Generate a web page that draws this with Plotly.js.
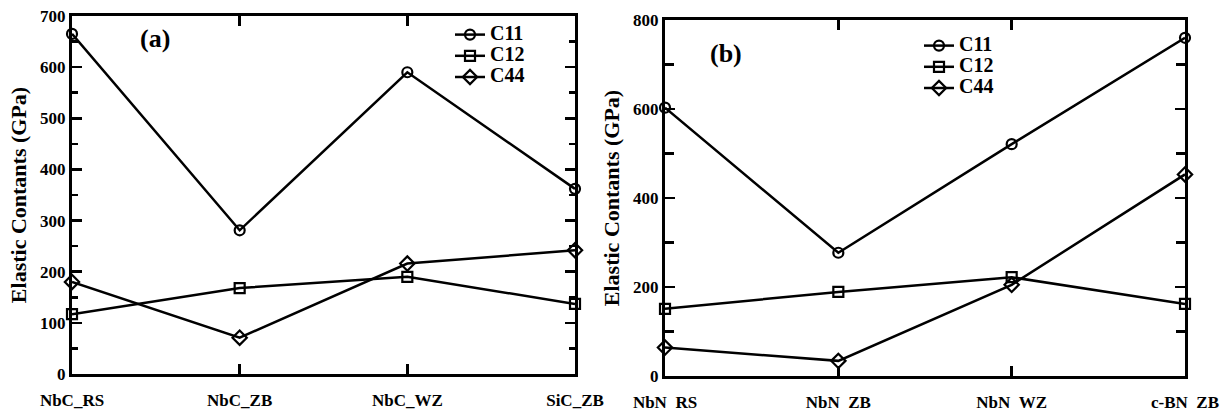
<!DOCTYPE html>
<html>
<head>
<meta charset="utf-8">
<script src="https://cdn.plot.ly/plotly-3.0.1.min.js"></script>
<style>html,body{margin:0;padding:0;background:#fff;}#chart{width:1225px;height:416px;}</style>
</head>
<body>
<div id="chart"></div>
<script>
// Panel (a)
const catsA = ["NbC_RS", "NbC_ZB", "NbC_WZ", "SiC_ZB"];
const c11A = [665, 281, 590, 362];
const c12A = [117, 168, 190, 137];
const c44A = [180, 71, 216, 242];
// Panel (b)
const catsB = ["NbN\u00a0\u00a0RS", "NbN\u00a0\u00a0ZB", "NbN\u00a0\u00a0WZ", "c-BN\u00a0\u00a0ZB"];
const c11B = [603, 277, 521, 760];
const c12B = [151, 189, 222, 162];
const c44B = [64, 34, 205, 453];
const seriesNames = ["C11", "C12", "C44"];
const symbols = ["circle-open", "square-open", "diamond-open"];

const FONT = "Liberation Serif";
function mk(x, y, i, xa, ya, leg) {
  return {
    x: x, y: y, name: '<span style="font-size:20px">' + seriesNames[i] + '</span>',
    type: "scatter", mode: "lines+markers",
    xaxis: xa, yaxis: ya, legend: leg, cliponaxis: false,
    line: {color: "#000", width: 2.5},
    marker: {symbol: symbols[i], size: i === 2 ? 11 : 10, color: "#000", line: {color: "#000", width: 2.2}}
  };
}
const traces = [
  mk(catsA, c11A, 0, "x", "y", "legend"),
  mk(catsA, c12A, 1, "x", "y", "legend"),
  mk(catsA, c44A, 2, "x", "y", "legend"),
  mk(catsB, c11B, 0, "x2", "y2", "legend2"),
  mk(catsB, c12B, 1, "x2", "y2", "legend2"),
  mk(catsB, c44B, 2, "x2", "y2", "legend2")
];

function xax(domain, anchor) {
  return {
    domain: domain, anchor: anchor, type: "category", range: [0, 3],
    showline: true, linecolor: "#000", linewidth: 3, mirror: "allticks",
    ticks: "inside", ticklen: 10, tickwidth: 2.5, tickcolor: "#000",
    showgrid: false, zeroline: false, ticklabelstandoff: 9,
    tickfont: {family: FONT, size: 17, color: "#000", weight: "bold"}
  };
}
function yax(domain, anchor, range, dtick, minorDtick, minorLen) {
  return {
    domain: domain, anchor: anchor, range: range, dtick: dtick, tick0: 0,
    showline: true, linecolor: "#000", linewidth: 3, mirror: "allticks",
    ticks: "inside", ticklen: 10, tickwidth: 2.5, tickcolor: "#000",
    minor: {ticks: "inside", dtick: minorDtick, ticklen: minorLen, tickwidth: 2.5, tickcolor: "#000", showgrid: false},
    showgrid: false, zeroline: false,
    tickfont: {family: FONT, size: 17, color: "#000", weight: "bold"},
    title: {text: "Elastic Contants (GPa)", standoff: 8, font: {family: FONT, size: 22, color: "#000", weight: "bold"}}
  };
}

const layout = {
  width: 1225, height: 416,
  margin: {l: 0, r: 0, t: 0, b: 0},
  paper_bgcolor: "#fff", plot_bgcolor: "#fff",
  font: {family: FONT, color: "#000"},
  showlegend: true,
  xaxis: xax([72/1225, 575/1225], "y"),
  yaxis: yax([1 - 374/416, 1 - 16/416], "x", [0, 700], 100, 50, 6),
  xaxis2: xax([665/1225, 1185/1225], "y2"),
  yaxis2: yax([1 - 376/416, 1 - 20/416], "x2", [0, 800], 200, 100, 9),
  legend: {x: 450/1225, y: 1 - 19/416, xanchor: "left", yanchor: "top", bgcolor: "rgba(0,0,0,0)",
           font: {family: FONT, size: 14, color: "#000", weight: "bold"}, tracegroupgap: 0},
  legend2: {x: 919/1225, y: 1 - 30/416, xanchor: "left", yanchor: "top", bgcolor: "rgba(0,0,0,0)",
           font: {family: FONT, size: 14, color: "#000", weight: "bold"}, tracegroupgap: 0},
  annotations: [
    {text: "(a)", xref: "paper", yref: "paper", x: 155/1225, y: 1 - 38/416, xanchor: "center", yanchor: "middle", showarrow: false,
     font: {family: FONT, size: 26, color: "#000", weight: "bold"}},
    {text: "(b)", xref: "paper", yref: "paper", x: 726/1225, y: 1 - 54/416, xanchor: "center", yanchor: "middle", showarrow: false,
     font: {family: FONT, size: 26, color: "#000", weight: "bold"}}
  ]
};
Plotly.newPlot("chart", traces, layout, {displayModeBar: false, staticPlot: true});
</script>
</body>
</html>
